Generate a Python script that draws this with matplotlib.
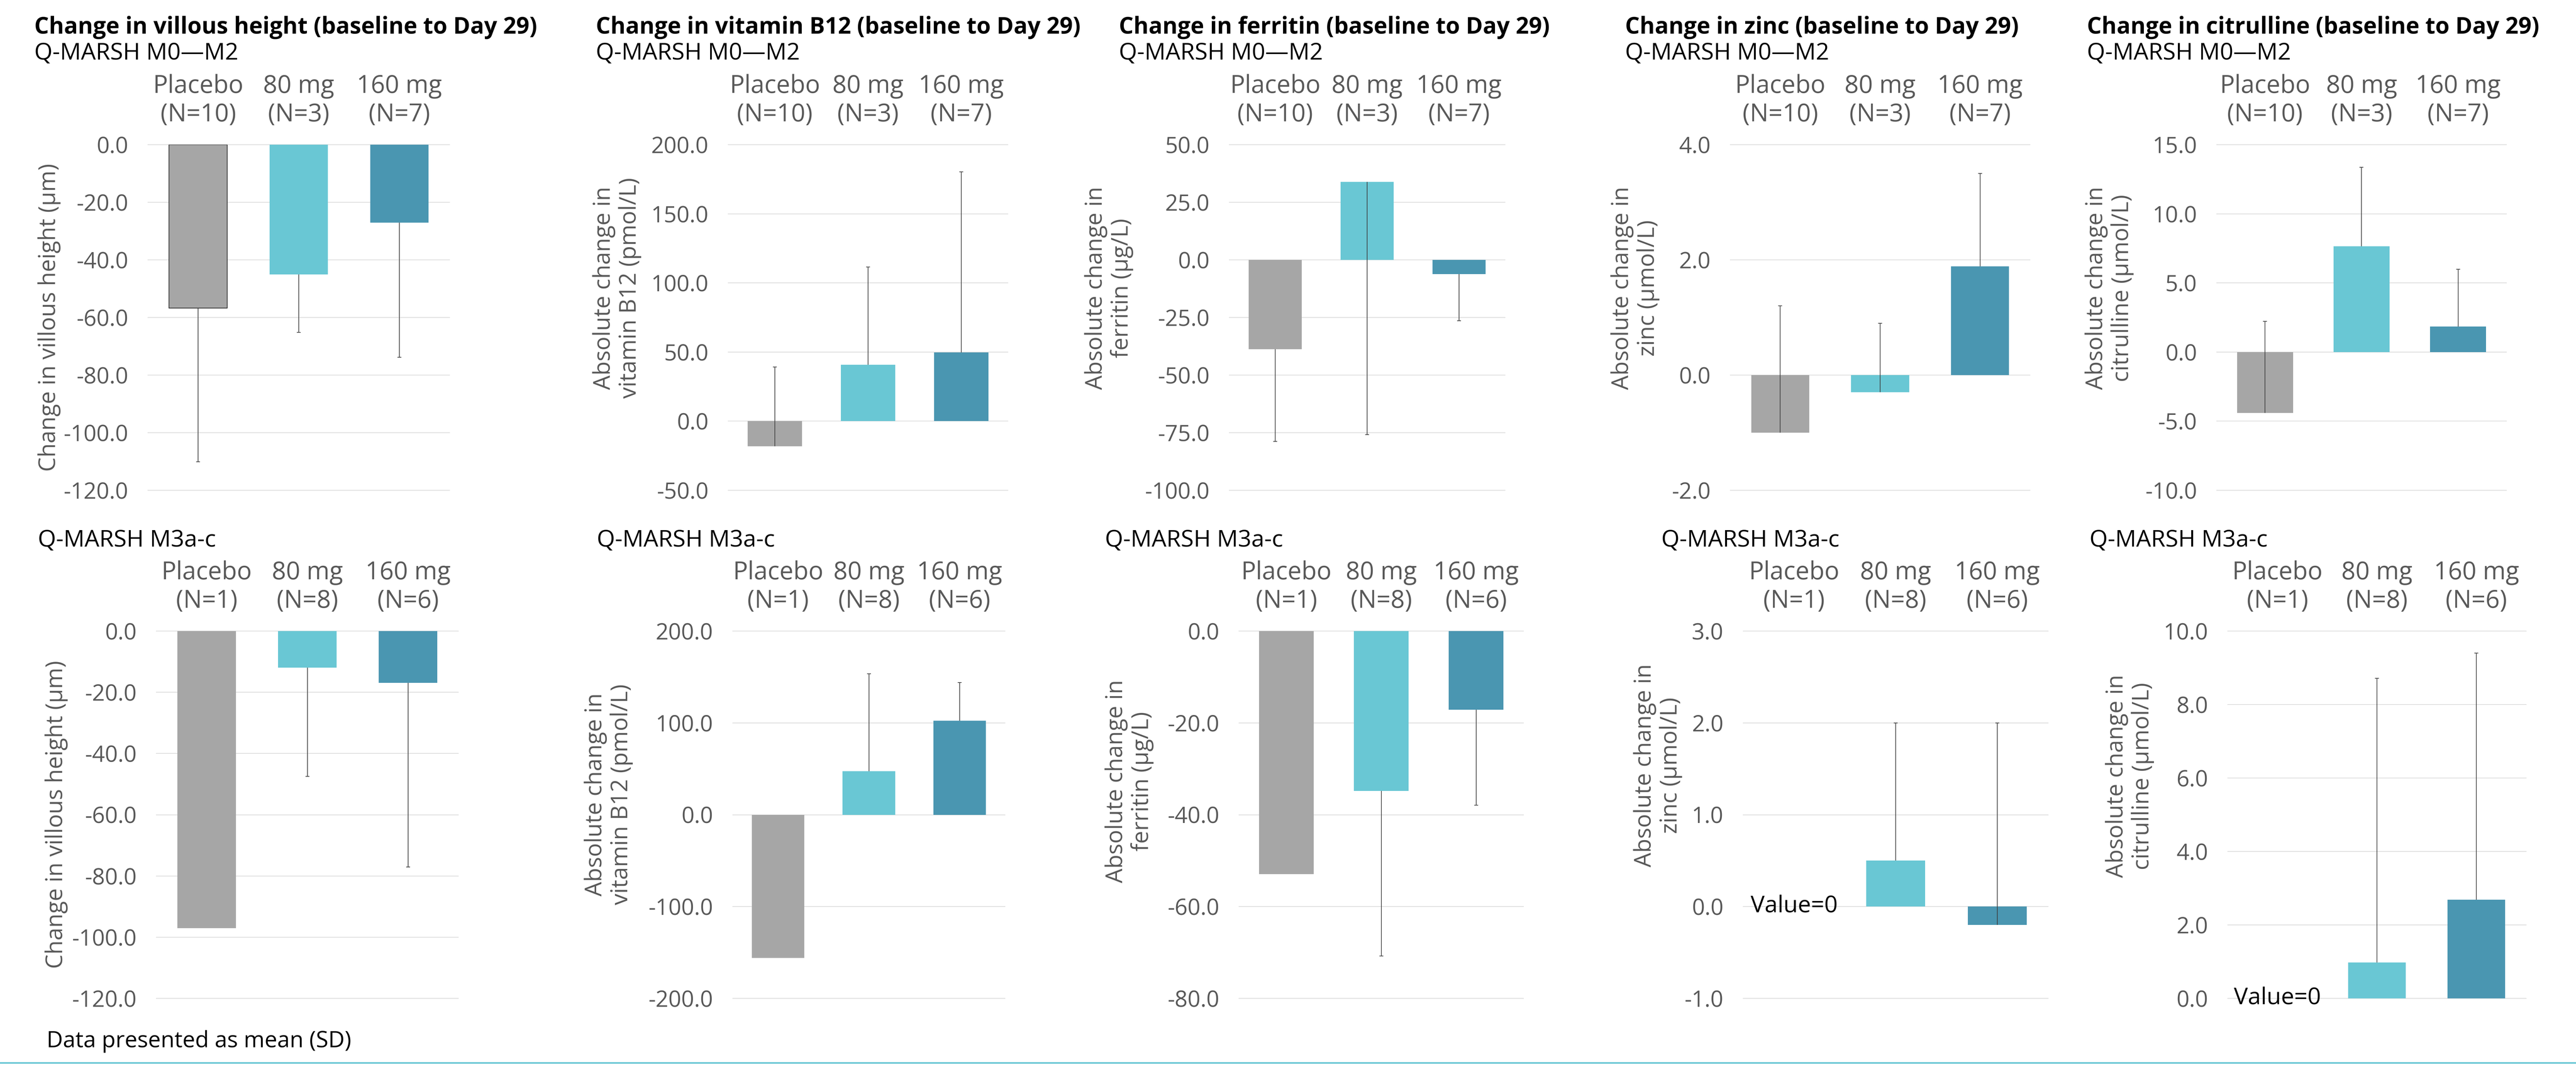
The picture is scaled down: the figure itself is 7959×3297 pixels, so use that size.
"""Change from baseline to Day 29 by Q-MARSH cohort, mean (SD) bar panels."""

import numpy as np
import matplotlib
matplotlib.use("Agg")
import matplotlib.pyplot as plt
from matplotlib.lines import Line2D
from matplotlib.ticker import FormatStrFormatter

plt.rcParams["font.family"] = ["Open Sans", "DejaVu Sans"]
plt.rcParams["axes.unicode_minus"] = False

groups = ["Placebo", "80 mg", "160 mg"]
n_m0 = [10, 3, 7]
n_m3 = [1, 8, 6]

titles = ["Change in villous height (baseline to Day 29)",
          "Change in vitamin B12 (baseline to Day 29)",
          "Change in ferritin (baseline to Day 29)",
          "Change in zinc (baseline to Day 29)",
          "Change in citrulline (baseline to Day 29)"]
ylabels = ["Change in villous height (\u03bcm)",
           "Absolute change in\nvitamin B12 (pmol/L)",
           "Absolute change in\nferritin (\u03bcg/L)",
           "Absolute change in\nzinc (\u03bcmol/L)",
           "Absolute change in\ncitrulline (\u03bcmol/L)"]

# Q-MARSH M0-M2 cohort: mean and SD
villous_m0 = [-56.7, -45.0, -27.1]
villous_m0_sd = [53.4, 20.2, 46.7]
b12_m0 = [-18.2, 40.9, 49.8]
b12_m0_sd = [57.5, 70.7, 130.5]
ferritin_m0 = [-38.8, 33.8, -6.2]
ferritin_m0_sd = [40.0, 109.6, 20.2]
zinc_m0 = [-1.00, -0.30, 1.89]
zinc_m0_sd = [2.20, 1.20, 1.61]
citrulline_m0 = [-4.40, 7.65, 1.84]
citrulline_m0_sd = [6.61, 5.70, 4.14]

# Q-MARSH M3a-c cohort (placebo N=1, no SD)
villous_m3 = [-97.1, -11.9, -16.9]
villous_m3_sd = [np.nan, 35.6, 60.2]
b12_m3 = [-156.1, 47.5, 102.4]
b12_m3_sd = [np.nan, 106.0, 41.6]
ferritin_m3 = [-52.9, -34.8, -17.1]
ferritin_m3_sd = [np.nan, 36.0, 20.8]
zinc_m3 = [0.0, 0.50, -0.20]
zinc_m3_sd = [np.nan, 1.50, 2.20]
citrulline_m3 = [0.0, 0.98, 2.69]
citrulline_m3_sd = [np.nan, 7.73, 6.71]

# SD whisker drawn below (-1) or above (+1) the mean
sd_side = [-1, 1, -1, 1, 1]

# axis range and tick step
yaxis_m0 = [(-120, 0, 20), (-50, 200, 50), (-100, 50, 25), (-2, 4, 2), (-10, 15, 5)]
yaxis_m3 = [(-120, 0, 20), (-200, 200, 100), (-80, 0, 20), (-1, 3, 1), (0, 10, 2)]

bar_colors = ["#A6A6A6", "#69C7D4", "#4A96B1"]
grey_text = "#595959"

W, H = 7959, 3297
fig = plt.figure(figsize=(W / 100, H / 100), dpi=100)

# layout in pixels: (left, right) of each plot area, row top/bottom
cols_m0 = [(457, 1389), (2250, 3114), (3798, 4650), (5346, 6272), (6849, 7744)]
cols_m3 = [(483, 1416), (2264, 3105), (3828, 4707), (5386, 6328), (6883, 7805)]
rows = [(447, 1515), (1950, 3085)]
title_x = [106, 1841, 3457, 5021, 6448]
sub_x_m3 = [117, 1844, 3414, 5133, 6456]
# y-label centre: (px left of axes, fraction of axes height)
ylab_m0 = [(305, 0.5), (344, 0.585), (372, 0.585), (294, 0.585), (332, 0.585)]
ylab_m3 = [(309, 0.5), (384, 0.555), (339, 0.591), (264, 0.634), (303, 0.605)]


def draw_panel(ax, means, sds, ns, side, yaxis, ylabel, lab_pos, width_px, outline=False):
    x = np.arange(len(groups))
    means = np.asarray(means, dtype=float)
    sds = np.asarray(sds, dtype=float)
    bars = ax.bar(x, means, width=0.58, color=bar_colors, zorder=2)
    if outline:
        bars[0].set_edgecolor("black")
        bars[0].set_linewidth(1.2)

    ends = means + side * sds
    ok = ~np.isnan(sds)
    ax.vlines(x[ok], means[ok], ends[ok], color="#3C3C3C", lw=1.5, zorder=3)
    ax.plot(x[ok], ends[ok], ls="none", marker="_", ms=8, mew=1.5,
            color="#3C3C3C", zorder=3)

    for xi, m in zip(x, means):
        if m == 0:
            ax.text(xi, 0, "Value=0", ha="center", va="center", fontsize=52,
                    color="black", zorder=4)

    lo, hi, step = yaxis
    ax.set_xlim(-0.5, 2.5)
    ax.set_ylim(lo, hi)
    ax.set_yticks(np.arange(lo, hi + step / 2, step))
    ax.yaxis.set_major_formatter(FormatStrFormatter("%.1f"))
    ax.set_xticks(x)
    ax.set_xticklabels([f"{g}\n(N={n})" for g, n in zip(groups, ns)])
    ax.xaxis.tick_top()
    ax.tick_params(axis="x", length=0, pad=39, labelsize=55, labelcolor=grey_text)
    ax.tick_params(axis="y", length=0, pad=44, labelsize=50, labelcolor=grey_text)
    for s in ax.spines.values():
        s.set_visible(False)
    ax.grid(axis="y", color="#D9D9D9", lw=1.5)
    ax.set_axisbelow(True)
    for gl in ax.get_ygridlines():
        gl.set_clip_on(False)

    ax.set_ylabel(ylabel, fontsize=51, color=grey_text, va="center", ha="center",
                  linespacing=1.15)
    ax.yaxis.set_label_coords(-lab_pos[0] / width_px, lab_pos[1])


cohorts = [
    ([villous_m0, b12_m0, ferritin_m0, zinc_m0, citrulline_m0],
     [villous_m0_sd, b12_m0_sd, ferritin_m0_sd, zinc_m0_sd, citrulline_m0_sd],
     n_m0, yaxis_m0, cols_m0, ylab_m0),
    ([villous_m3, b12_m3, ferritin_m3, zinc_m3, citrulline_m3],
     [villous_m3_sd, b12_m3_sd, ferritin_m3_sd, zinc_m3_sd, citrulline_m3_sd],
     n_m3, yaxis_m3, cols_m3, ylab_m3),
]

for r, (means_all, sds_all, ns, yaxes, cols, ylabs) in enumerate(cohorts):
    top, bottom = rows[r]
    for i in range(5):
        left, right = cols[i]
        ax = fig.add_axes([left / W, 1 - bottom / H, (right - left) / W, (bottom - top) / H])
        draw_panel(ax, means_all[i], sds_all[i], ns, sd_side[i], yaxes[i],
                   ylabels[i], ylabs[i], right - left, outline=(r == 0 and i == 0))

for i in range(5):
    fig.text(title_x[i] / W, 1 - 104 / H, titles[i], fontsize=51, fontweight="bold",
             color="black", va="baseline")
    fig.text(title_x[i] / W, 1 - 184 / H, "Q-MARSH M0\u2014M2", fontsize=52,
             color="black", va="baseline")
    fig.text(sub_x_m3[i] / W, 1 - 1689 / H, "Q-MARSH M3a-c", fontsize=52,
             color="black", va="baseline")

fig.text(144 / W, 1 - 3236 / H, "Data presented as mean (SD)", fontsize=50,
         color="black", va="baseline")
fig.add_artist(Line2D([0, 1], [1 - 3284 / H] * 2, color="#69C7D4", lw=3.5))

fig.savefig("out.png", dpi=100)
plt.close(fig)
